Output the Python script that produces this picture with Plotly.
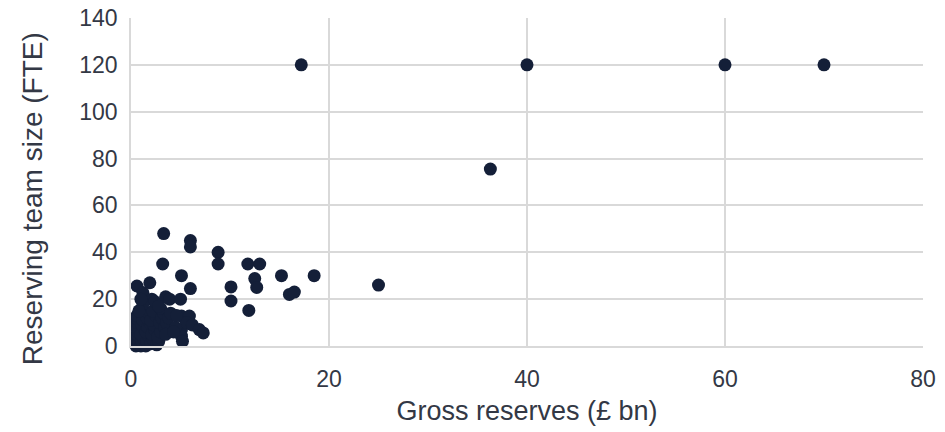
import plotly.graph_objects as go

# Gross reserves (£ bn) and reserving team size (FTE) per company
gross_reserves = [
    # dense cluster of small companies
    0.5, 0.6, 0.7, 0.5, 0.8, 0.6, 0.7, 0.5, 0.6, 0.5, 0.6,
    1.0, 1.2, 1.1, 1.3, 1.0, 1.4, 1.1, 1.2,
    1.5, 1.6, 1.8, 1.5, 1.7, 1.9, 1.6, 1.8,
    2.0, 2.2, 2.1, 2.4, 2.3, 2.0, 2.5, 2.2,
    2.6, 2.8, 2.7, 3.0, 2.9, 3.1, 3.3, 3.0,
    3.4, 3.6, 3.8, 4.0, 3.5,
    0.6, 1.9, 1.2, 2.1, 2.4, 3.5, 3.9, 2.8, 1.2, 0.8, 1.0,
    5.0, 5.1, 5.9, 5.1, 5.1, 5.2, 5.6, 6.2, 6.9, 7.3, 4.5, 4.3, 4.6,
    # mid-sized companies
    3.3, 6.0, 6.0, 8.8, 8.8, 3.2, 5.1, 6.0, 11.8, 13.0, 12.5, 12.7,
    15.2, 18.5, 16.0, 16.5, 10.1, 10.1, 11.9, 25.0,
    # large companies
    36.3, 17.2, 40.0, 60.0, 70.0,
]
team_size = [
    0, 1, 2, 3, 4, 5, 6, 8, 10, 12, 13,
    0, 1, 2, 3, 5, 7, 9, 11,
    0, 2, 4, 6, 8, 10, 12, 14,
    1, 3, 5, 7, 9, 11, 13, 15,
    0.5, 2, 4, 6, 10, 12, 14, 16,
    8, 10, 12, 14, 5,
    25.6, 27, 22.8, 20, 19, 21, 20, 17, 18, 15, 20,
    20, 12.8, 12.8, 7, 4.2, 2, 10, 9, 7, 5.6, 8, 6, 13,
    48, 45, 42.3, 40, 35, 35, 30, 24.5, 35, 35, 28.8, 25,
    30, 30, 22, 23, 25.2, 19.2, 15.2, 26,
    75.5, 120, 120, 120, 120,
]

x_ticks = [0, 20, 40, 60, 80]
y_ticks = [0, 20, 40, 60, 80, 100, 120, 140]

font_family = "Liberation Sans, Arial, sans-serif"
text_color = "#333845"
grid_color = "#d9d9d9"
marker_color = "#141f38"

fig = go.Figure(
    go.Scatter(
        x=gross_reserves,
        y=team_size,
        mode="markers",
        marker=dict(size=13, color=marker_color, line=dict(width=0)),
        cliponaxis=False,
        hoverinfo="x+y",
    )
)

fig.update_layout(
    width=945,
    height=432,
    margin=dict(l=131, r=22, t=18, b=86),
    paper_bgcolor="white",
    plot_bgcolor="white",
    showlegend=False,
    font=dict(family=font_family, color=text_color, size=23),
)

fig.update_xaxes(
    range=[0, 80],
    tickvals=x_ticks,
    automargin=False,
    showgrid=True,
    gridcolor=grid_color,
    gridwidth=1.5,
    showline=True,
    linecolor=grid_color,
    linewidth=1.5,
    zeroline=False,
    ticks="outside",
    ticklen=12,
    tickcolor="rgba(0,0,0,0)",
    tickfont=dict(size=23),
    title=dict(text="Gross reserves (£ bn)", font=dict(size=27), standoff=10),
)
fig.update_yaxes(
    range=[0, 140],
    tickvals=y_ticks,
    automargin=False,
    showgrid=True,
    gridcolor=grid_color,
    gridwidth=1.5,
    showline=True,
    linecolor=grid_color,
    linewidth=1.5,
    zeroline=False,
    ticks="outside",
    ticklen=7,
    tickcolor="rgba(0,0,0,0)",
    tickfont=dict(size=23),
)

# Vertical axis title, placed slightly below the plot's vertical centre
fig.add_annotation(
    text="Reserving team size (FTE)",
    xref="paper", yref="paper",
    x=-0.124, y=0.45,
    xanchor="center", yanchor="middle",
    textangle=-90,
    showarrow=False,
    font=dict(size=28, color=text_color, family=font_family),
)

fig.write_html("out.html")
